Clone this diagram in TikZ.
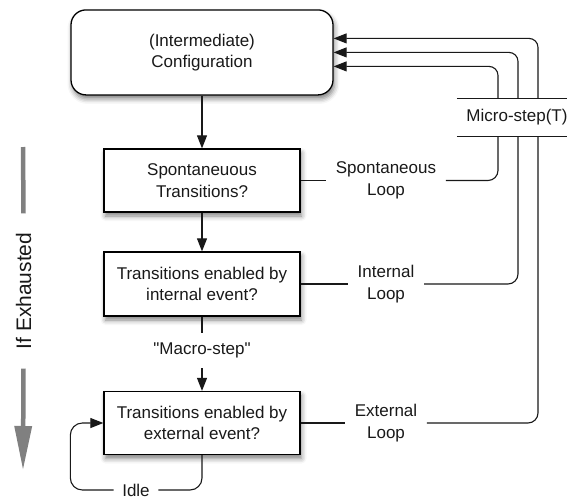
\documentclass[tikz,border=0pt]{standalone}
\usepackage{fontspec}
\setmainfont{Liberation Sans}
% same face without the TeX quote mapping, for straight quotes
\newfontfamily\straightquotes{Liberation Sans}[Ligatures=ResetAll]
\usetikzlibrary{arrows.meta,shadows.blur}

\begin{document}
\begin{tikzpicture}[x=1pt,y=-1pt,
  every node/.style={font=\fontsize{17}{21.5}\selectfont, align=center, text=black!90},
  shadowed/.style={blur shadow={shadow xshift=1.5pt, shadow yshift=-4pt,
      shadow blur radius=5pt, shadow opacity=50}},
  stepbox/.style={draw, line width=1.3pt, fill=white, inner sep=0pt,
      minimum width=196pt, minimum height=63pt, shadowed},
  cfgbox/.style={stepbox, rounded corners=15pt, minimum width=262pt, minimum height=85pt},
  looplabel/.style={inner xsep=9.5pt, inner ysep=0pt},
  conn/.style={line width=1.1pt, draw=black!90},
  tip/.style={-{Triangle[length=13pt,width=10pt]}},
  greyline/.style={line width=4.5pt, draw=black!50}
]
\useasboundingbox (0,0) rectangle (567,501);
\clip (0,0) rectangle (567,501);

% main boxes
\node[cfgbox]  (cfg) at (202,52.4) {(Intermediate)\\Configuration};
\node[stepbox] (sp)  at (202,180.5) {Spontaneuous\\Transitions?};
\node[stepbox, minimum height=64pt] (int) at (202,284) {Transitions enabled by\\internal event?};
\node[stepbox] (ext) at (202,423) {Transitions enabled by\\external event?};

% micro-step store
\node[inner sep=0pt, minimum width=120pt, minimum height=37pt] (ms) at (517,117.5) {Micro-step(T)};
\draw[conn] (ms.north west) -- (ms.north east);
\draw[conn] (ms.south west) -- (ms.south east);

% loop labels
\node[looplabel] (sl) at (386,180.5) {Spontaneous\\Loop};
\node[looplabel] (il) at (386,284) {Internal\\Loop};
\node[looplabel] (el) at (386,423) {External\\Loop};

% macro step and idle labels
\node[inner sep=0pt, minimum height=35pt] (mac) at (202,350.5) {\straightquotes\symbol{34}Macro-step\symbol{34}};
\node[looplabel, inner xsep=8.5pt] (idle) at (136,490) {Idle};

% vertical flow
\draw[conn,tip] (cfg.south) -- (sp.north);
\draw[conn,tip] (sp.south) -- (int.north);
\draw[conn] (int.south) -- (mac.north);
\draw[conn,tip] (mac.south) -- (ext.north);

% loops into the micro-step store
\draw[conn] (sp.east) -- (sl.west);
\draw[conn, rounded corners=10pt] (sl.east) -| ([xshift=-19pt]ms.south);
\draw[conn] (int.east) -- (il.west);
\draw[conn, rounded corners=10pt] (il.east) -| ([xshift=1pt]ms.south);
\draw[conn] (ext.east) -- (el.west);
\draw[conn, rounded corners=10pt] (el.east) -| ([xshift=21pt]ms.south);

% micro-step back to the configuration
\draw[conn, tip, rounded corners=9pt] ([xshift=-19pt]ms.north) |- ([yshift=-14pt]cfg.east);
\draw[conn, tip, rounded corners=9pt] ([xshift=1pt]ms.north) |- (cfg.east);
\draw[conn, tip, rounded corners=9pt] ([xshift=21pt]ms.north) |- ([yshift=14pt]cfg.east);

% idle loop
\draw[conn, rounded corners=12pt] (ext.south) |- (idle.east);
\draw[conn, tip, rounded corners=12pt] (idle.west) -| ([xshift=-33pt]ext.west) -- (ext.west);

% exhaustion indicator
\node[rotate=90, font=\fontsize{21}{25}\selectfont, inner xsep=19pt, inner ysep=0pt] (ie) at (23.5,291) {If Exhausted};
\coordinate (gtop) at (23,147);
\coordinate (gbot) at (23,469);
\draw[greyline] (gtop) -- (ie.east);
\draw[greyline, -{Triangle[length=43pt,width=18pt,line width=0pt]}] (ie.west) -- (gbot);
\end{tikzpicture}
\end{document}
